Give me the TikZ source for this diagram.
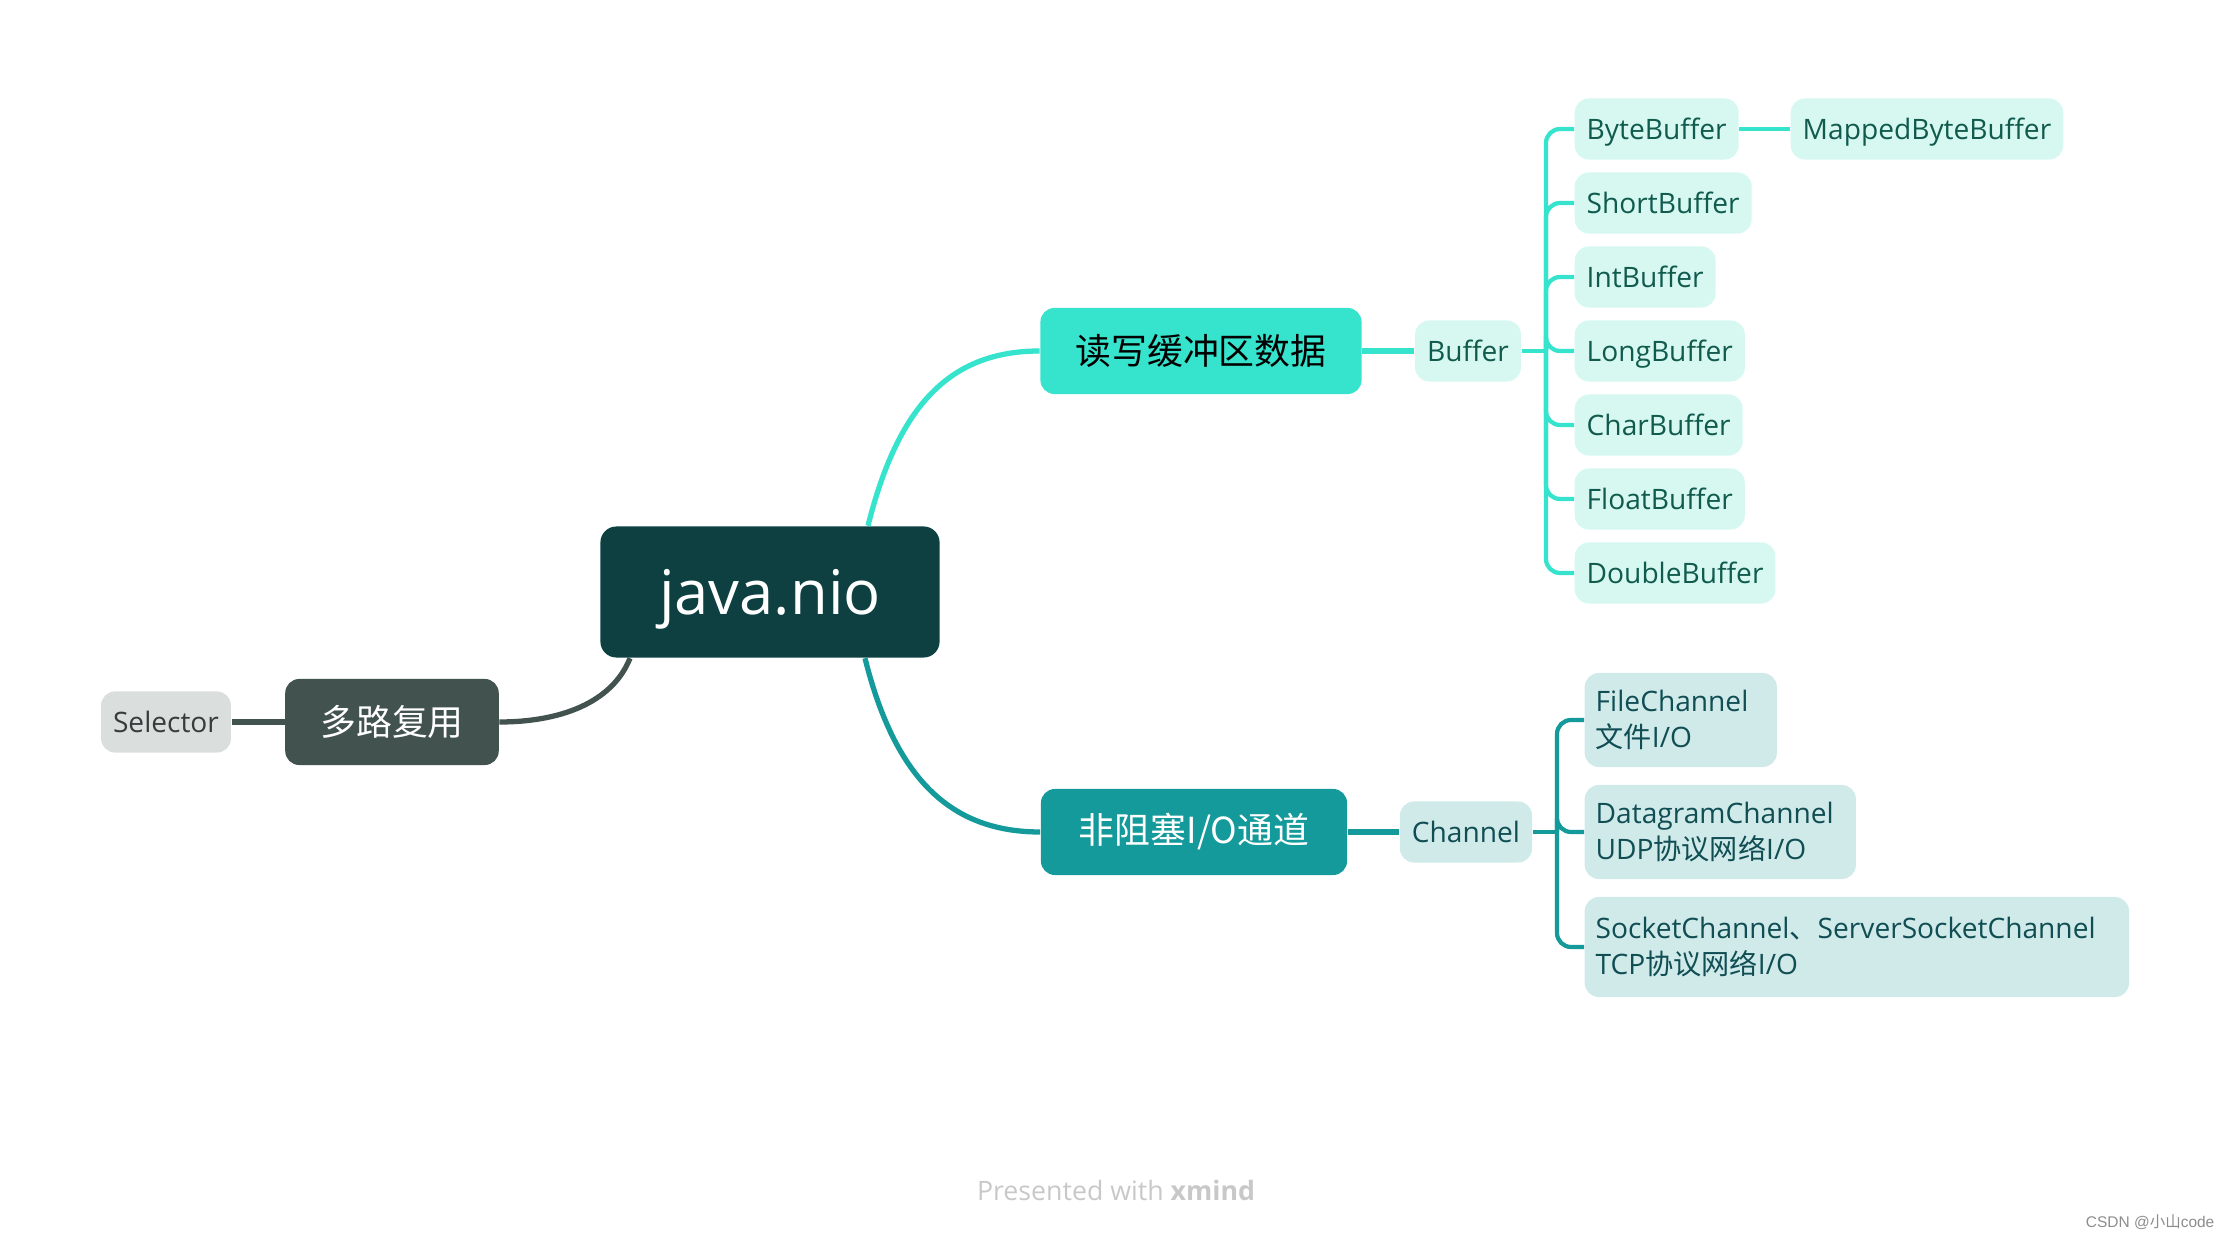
\documentclass[tikz,border=0pt]{standalone}
\usepackage{fontspec}
\usepackage{xcolor}
\usepackage{tikz}
\usetikzlibrary{calc}
\setmainfont{Open Sans}
\newfontfamily\cjk{Noto Sans CJK SC}
\newfontfamily\wmfont{Liberation Sans}
\definecolor{rootfill}{RGB}{14,64,66}
\definecolor{bufmain}{RGB}{54,227,204}
\definecolor{chnmain}{RGB}{20,154,155}
\definecolor{muxmain}{RGB}{66,82,79}
\definecolor{selfill}{RGB}{218,222,221}
\definecolor{seltext}{RGB}{55,60,60}
\definecolor{bufleaf}{RGB}{214,248,241}
\definecolor{buftext}{RGB}{16,90,78}
\definecolor{chnleaf}{RGB}{208,234,234}
\definecolor{chntext}{RGB}{16,78,84}
\definecolor{footgray}{RGB}{200,200,200}
\definecolor{wmgray}{RGB}{140,140,140}
\tikzset{
  topic/.style={rounded corners=0.14cm, inner xsep=0.35cm, minimum height=0.86cm,
    font=\cjk\fontsize{10.2}{12}\selectfont},
  leaf/.style={rounded corners=0.14cm, inner xsep=0.12cm, minimum height=0.57cm,
    text height=1.55ex, text depth=0.45ex, font=\fontsize{8}{10.2}\selectfont},
  bleaf/.style={leaf, fill=bufleaf, text=buftext, anchor=west},
  cleaf/.style={leaf, fill=chnleaf, text=chntext, anchor=west, align=left,
    text height=, text depth=, minimum height=0.94cm, inner xsep=0.11cm},
  link/.style={line width=1.5pt},
  twig/.style={line width=1.2pt, rounded corners=0.14cm},
}

\begin{document}
\begin{tikzpicture}[x=0.01cm,y=-0.01cm]
  \useasboundingbox (0,0) rectangle (2230,1240);

  % centre
  \node[fill=rootfill, text=white, rounded corners=0.16cm, minimum width=3.39cm,
        minimum height=1.31cm, text depth=0pt, font=\fontsize{17.5}{20}\selectfont] (nio) at (770,592) {java.nio};

  % main topics
  \node[topic, fill=bufmain, text=black, minimum width=3.21cm] (rw) at (1201,351) {读写缓冲区数据};
  \node[topic, fill=chnmain, text=white, minimum width=3.06cm] (nb) at (1194,832) {非阻塞I/O通道};
  \node[topic, fill=muxmain, text=white] (mux) at (392,722) {多路复用};
  \node[leaf, fill=selfill, text=seltext] (sel) at (166,722) {Selector};

  % buffers
  \node[leaf, fill=bufleaf, text=buftext] (buf) at (1468,351) {Buffer};
  \node[bleaf] (byte) at (1574,129) {ByteBuffer};
  \node[bleaf] (mapped) at (1790,129) {MappedByteBuffer};
  \node[bleaf] (short) at (1574,203) {ShortBuffer};
  \node[bleaf] (int) at (1574,277) {IntBuffer};
  \node[bleaf] (long) at (1574,351) {LongBuffer};
  \node[bleaf] (char) at (1574,425) {CharBuffer};
  \node[bleaf] (float) at (1574,499) {FloatBuffer};
  \node[bleaf] (double) at (1574,573) {DoubleBuffer};
  \coordinate (bj) at (1546,351);

  % channels
  \node[leaf, fill=chnleaf, text=chntext] (chn) at (1466,832) {Channel};
  \node[cleaf, text width=1.70cm] (file) at (1584,720) {FileChannel\\{\cjk 文件}I/O};
  \node[cleaf, text width=2.49cm] (dgram) at (1584,832) {DatagramChannel\\UDP{\cjk 协议网络}I/O};
  \node[cleaf, text width=5.22cm, minimum height=1.0cm] (sock) at (1584,947) {SocketChannel{\cjk 、}ServerSocketChannel\\TCP{\cjk 协议网络}I/O};
  \coordinate (cj) at (1557,832);

  % connectors
  \draw[link, bufmain] ($(nio.north)+(98,0)$) .. controls +(30,-120) and +(-90,0) .. (rw.west);
  \draw[link, chnmain] ($(nio.south)+(95,0)$) .. controls +(30,120) and +(-90,0) .. (nb.west);
  \draw[link, muxmain] ($(nio.south)+(-140,0)$) .. controls +(-18,45) and +(60,0) .. (mux.east);
  \draw[link, muxmain] (sel) -- (mux);
  \draw[link, bufmain] (rw) -- (buf);
  \draw[link, chnmain] (nb) -- (chn);
  \draw[twig, bufmain] (buf) -- (bj);
  \draw[twig, bufmain] (byte) -- (mapped);
  \foreach \b in {byte,short,int,long,char,float,double}
    \draw[twig, bufmain] (bj) |- (\b.west);
  \draw[twig, chnmain] (chn) -- (cj);
  \foreach \c in {file,dgram,sock}
    \draw[twig, chnmain] (cj) |- (\c.west);

  % footer
  \node[text=footgray, font=\fontsize{7.6}{10}\selectfont] (foot) at (1116,1190) {Presented with \textbf{xmind}};
  \node[text=wmgray, anchor=east, inner sep=0pt, font=\wmfont\fontsize{4.4}{5}\selectfont] (wm) at (2215,1222) {CSDN @{\cjk 小山}code};
\end{tikzpicture}
\end{document}
